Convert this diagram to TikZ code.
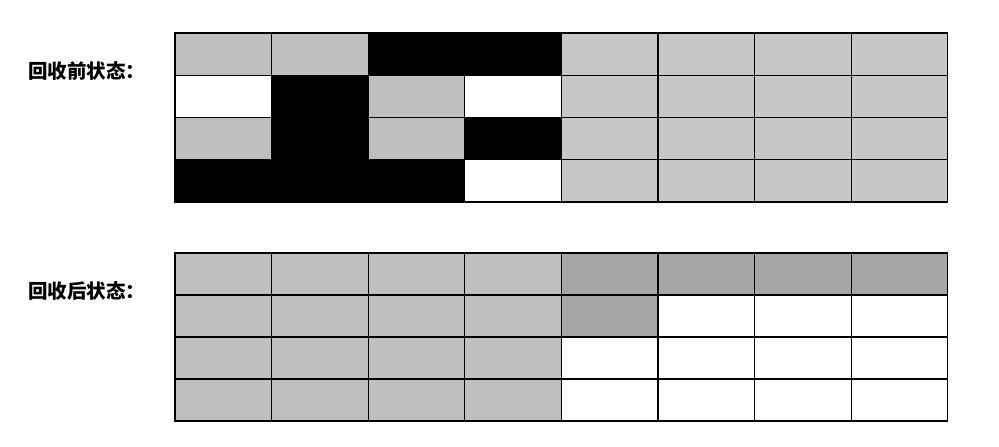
\documentclass[tikz,border=0pt]{standalone}
\usepackage{fontspec}
\newfontfamily\cjk{Noto Sans CJK SC}
\colorlet{cG}{black!25}
\colorlet{cL}{black!22}
\colorlet{cD}{black!35}
\colorlet{cB}{black}
\colorlet{cW}{white}
\tikzstyle{pixfig}=[x=1pt,y=-1pt]
\tikzstyle{cell}=[draw=black,line width=1.2pt]
\tikzstyle{caption}=[anchor=west,font=\cjk\bfseries\fontsize{19.5}{19.5}\selectfont,inner sep=0pt]

\begin{document}
\begin{tikzpicture}[style=pixfig]
\useasboundingbox (0,0) rectangle (999,447);

% before collection
\node[caption] (before) at (28,71) {回收前状态：};
\foreach \row [count=\j from 0] in {{G,G,B,B,L,L,L,L},{W,B,G,W,L,L,L,L},{G,B,G,B,L,L,L,L},{B,B,B,W,L,L,L,L}}
  \foreach \c [count=\i from 0] in \row
    \filldraw[cell,fill=c\c] (175+96.6*\i,33+42.25*\j) rectangle +(96.6,42.25);

% after collection
\node[caption] (after) at (28,291) {回收后状态：};
\foreach \row [count=\j from 0] in {{G,G,G,G,D,D,D,D},{G,G,G,G,D,W,W,W},{G,G,G,G,W,W,W,W},{G,G,G,G,W,W,W,W}}
  \foreach \c [count=\i from 0] in \row
    \filldraw[cell,fill=c\c] (175+96.6*\i,253+42*\j) rectangle +(96.6,42);
\end{tikzpicture}
\end{document}
